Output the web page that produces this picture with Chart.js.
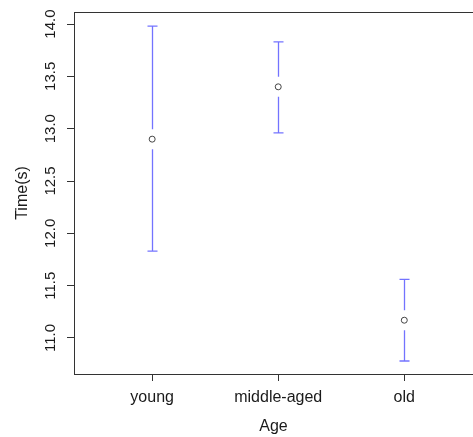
<!DOCTYPE html>
<html>
<head>
<meta charset="utf-8">
<script src="https://cdn.jsdelivr.net/npm/chart.js@4"></script>
<style>
  html, body { margin: 0; padding: 0; background: #fff; overflow: hidden; }
</style>
</head>
<body>
<canvas id="ciChart" width="473" height="437"></canvas>
<script>
// data
var ageGroups = ['young', 'middle-aged', 'old'];
var meanTime = [12.90, 13.40, 11.17];
var upperTime = [13.98, 13.83, 11.56];
var lowerTime = [11.83, 12.96, 10.78];
var yTickValues = [11.0, 11.5, 12.0, 12.5, 13.0, 13.5, 14.0];

var axisColor = '#333';
var barColor = 'rgba(0, 0, 255, 0.55)';

// error bars drawn through the chart's own scales
var errorBars = {
    id: 'errorBars',
    afterDatasetsDraw: function(chart) {
        var ctx = chart.ctx;
        var xs = chart.scales.x, ys = chart.scales.y;
        ctx.save();
        ctx.strokeStyle = barColor;
        ctx.lineWidth = 1.3;
        for (var i = 0; i < ageGroups.length; i++) {
            var px = Math.round(xs.getPixelForValue(i + 1)) + 0.5;
            var pm = ys.getPixelForValue(meanTime[i]);
            var pu = ys.getPixelForValue(upperTime[i]);
            var pl = ys.getPixelForValue(lowerTime[i]);
            ctx.beginPath();
            ctx.moveTo(px, pu); ctx.lineTo(px, pm - 10);
            ctx.moveTo(px, pm + 10); ctx.lineTo(px, pl);
            ctx.moveTo(px - 5, pu); ctx.lineTo(px + 5, pu);
            ctx.moveTo(px - 5, pl); ctx.lineTo(px + 5, pl);
            ctx.stroke();
        }
        ctx.restore();
    }
};

// top edge of the plot box (right edge is off screen)
var boxTop = {
    id: 'boxTop',
    afterDraw: function(chart) {
        var a = chart.chartArea, ctx = chart.ctx;
        ctx.save();
        ctx.strokeStyle = axisColor;
        ctx.lineWidth = 1;
        ctx.beginPath();
        ctx.moveTo(a.left, Math.round(a.top) + 0.5);
        ctx.lineTo(a.right, Math.round(a.top) + 0.5);
        ctx.stroke();
        ctx.restore();
    }
};

var ctx = document.getElementById('ciChart').getContext('2d');

var chart = new Chart(ctx, {
    type: 'scatter',
    data: {
        datasets: [{
            data: meanTime.map(function(v, i) { return { x: i + 1, y: v }; }),
            pointStyle: 'circle',
            pointRadius: 3,
            borderColor: '#444',
            backgroundColor: '#fff',
            borderWidth: 1
        }]
    },
    plugins: [errorBars, boxTop],
    options: {
        responsive: false,
        animation: false,
        layout: { autoPadding: false, padding: { top: 12, left: 0, right: 0, bottom: 0 } },
        plugins: {
            legend: { display: false },
            tooltip: { enabled: false }
        },
        scales: {
            x: {
                type: 'linear',
                min: 0.38,
                max: 3.545,
                afterBuildTicks: function(scale) {
                    scale.ticks = ageGroups.map(function(n, i) { return { value: i + 1 }; });
                },
                afterFit: function(scale) { scale.height = 63; },
                grid: { drawOnChartArea: false, tickLength: 7, tickColor: axisColor },
                border: { display: true, color: axisColor, width: 1 },
                ticks: {
                    color: '#1a1a1a',
                    font: { family: 'Liberation Sans, Arial, sans-serif', size: 16 },
                    padding: 7,
                    maxRotation: 0,
                    autoSkip: false,
                    callback: function(value) { return ageGroups[value - 1]; }
                },
                title: {
                    display: true,
                    text: 'Age',
                    color: '#1a1a1a',
                    font: { family: 'Liberation Sans, Arial, sans-serif', size: 16, lineHeight: 1.2 },
                    padding: { top: 0, bottom: 1 }
                }
            },
            y: {
                type: 'linear',
                min: 10.656,
                max: 14.115,
                afterBuildTicks: function(scale) {
                    scale.ticks = yTickValues.map(function(v) { return { value: v }; });
                },
                afterFit: function(scale) { scale.width = 74; },
                grid: { drawOnChartArea: false, tickLength: 7, tickColor: axisColor },
                border: { display: true, color: axisColor, width: 1 },
                ticks: {
                    color: '#1a1a1a',
                    font: { family: 'Liberation Sans Narrow, Liberation Sans, Arial, sans-serif', size: 15 },
                    padding: 2,
                    minRotation: 90,
                    maxRotation: 90,
                    crossAlign: 'center',
                    autoSkip: false,
                    callback: function(value) { return Number(value).toFixed(1); }
                },
                title: {
                    display: true,
                    text: 'Time(s)',
                    color: '#1a1a1a',
                    font: { family: 'Liberation Sans, Arial, sans-serif', size: 16, lineHeight: 1.2 },
                    padding: { top: 13, bottom: 0 }
                }
            }
        }
    }
});
</script>
</body>
</html>
